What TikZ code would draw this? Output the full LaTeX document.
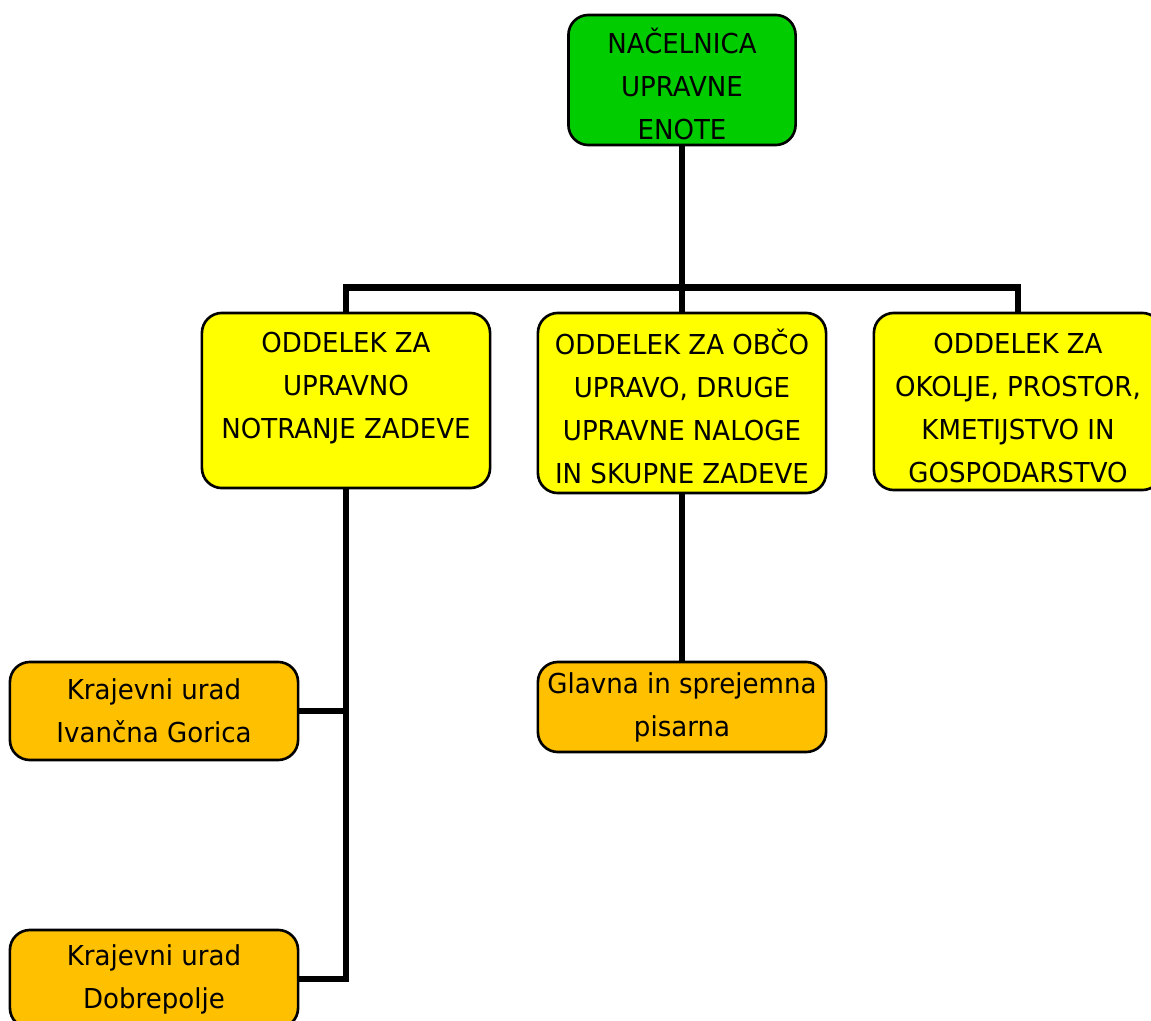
\documentclass[tikz,border=0pt]{standalone}
\usepackage{fontspec}
\setmainfont{DejaVu Sans}[FakeStretch=0.95]
\definecolor{vodja}{RGB}{0,204,0}
\definecolor{oddelek}{RGB}{255,255,0}
\definecolor{urad}{RGB}{255,192,0}
\newcommand{\zgoraj}{\rule{0pt}{9.4pt}}

\begin{document}
\begin{tikzpicture}[x=0.01cm,y=-0.01cm,
    box/.style={draw,line width=0.75pt,rounded corners=0.2cm,align=center,
      inner sep=0pt,font=\fontsize{7.8pt}{12.2pt}\selectfont},
    vodjabox/.style={box,fill=vodja,minimum width=2.27cm,minimum height=1.30cm},
    oddelekbox/.style={box,fill=oddelek,minimum width=2.88cm},
    uradbox/.style={box,fill=urad,minimum width=2.88cm},
    conn/.style={line width=1.85pt}]
    \clip (0,0) rectangle (1151,1021);
    \fill[white] (0,0) rectangle (1151,1021);
    % vodstvo
    \node[vodjabox] (nacelnica) at (682,80) {\zgoraj NAČELNICA\\UPRAVNE\\ENOTE};
    % oddelki
    \node[oddelekbox,minimum height=1.75cm] (notranje) at (346,400.5) {\zgoraj ODDELEK ZA\\UPRAVNO\\NOTRANJE ZADEVE\\~};
    \node[oddelekbox,minimum height=1.80cm] (uprava) at (682,403) {\zgoraj ODDELEK ZA OBČO\\UPRAVO, DRUGE\\UPRAVNE NALOGE\\IN SKUPNE ZADEVE};
    \node[oddelekbox,minimum height=1.77cm] (okolje) at (1018,401.5) {\zgoraj ODDELEK ZA\\OKOLJE, PROSTOR,\\KMETIJSTVO IN\\GOSPODARSTVO};
    % uradi
    \node[uradbox,minimum height=0.98cm] (ivancna) at (154,711) {Krajevni urad\\Ivančna Gorica};
    \node[uradbox,minimum height=0.90cm] (pisarna) at (682,707) {Glavna in sprejemna\\pisarna};
    \node[uradbox,minimum height=0.98cm] (dobrepolje) at (154,979) {Krajevni urad\\Dobrepolje};
    % povezave
    \draw[conn] (nacelnica.south) -- (uprava.north);
    \draw[conn] (notranje.north) -- ++(0,-24) -| (okolje.north);
    \draw[conn] (notranje.south) |- (dobrepolje.east);
    \draw[conn] (ivancna.east) -- (ivancna.east -| notranje.south);
    \draw[conn] (uprava.south) -- (pisarna.north);
\end{tikzpicture}
\end{document}
